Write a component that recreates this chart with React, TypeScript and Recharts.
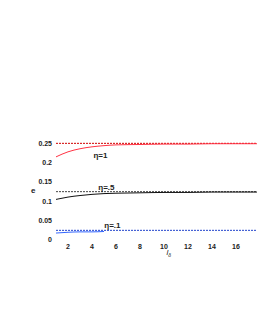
import {
  ComposedChart,
  Line,
  XAxis,
  YAxis,
  ReferenceLine,
  ReferenceDot,
  Label,
} from "recharts";

const xs = [1, 1.5, 2, 3, 4, 5, 6, 8, 10, 12, 14, 16, 17.75];
const eta1 = [0.215, 0.222, 0.228, 0.236, 0.241, 0.244, 0.246, 0.247, 0.248, 0.248, 0.249, 0.249, 0.249];
const eta05 = [0.105, 0.108, 0.111, 0.115, 0.118, 0.12, 0.121, 0.122, 0.123, 0.123, 0.124, 0.124, 0.124];
const eta01 = [0.018, 0.019, 0.02, 0.021, 0.021, 0.022, null, null, null, null, null, null, null];
const xTicks = [2, 4, 6, 8, 10, 12, 14, 16];
const yTicks = [0, 0.05, 0.1, 0.15, 0.2, 0.25];
const limits = [0.25, 0.125, 0.025];

const data = xs.map((x, i) => ({ x, a: eta1[i], b: eta05[i], c: eta01[i] }));

const font = "Arial, 'Liberation Sans', sans-serif";
const tickStyle = { fontSize: 7, fill: "#222", fontFamily: font, fontWeight: 700 };

function XLabel(props: any) {
  const vb = props.viewBox;
  const cx = vb.x + vb.width / 2 + 10;
  return (
    <text x={cx} y={vb.y + 15} fontSize={8} fontFamily={font} fontStyle="italic" fill="#222">
      l<tspan fontSize={5} dy={2}>δ</tspan>
    </text>
  );
}

export default function App() {
  return (
    <div style={{ position: "absolute", left: 0, top: 0, background: "#fff" }}>
      <ComposedChart
        width={257}
        height={332}
        data={data}
        margin={{ top: 124, right: 0, bottom: 72, left: 0 }}
      >
        <XAxis
          dataKey="x"
          type="number"
          domain={[1, 17.75]}
          ticks={xTicks}
          axisLine={false}
          tickLine={false}
          tickSize={2}
          tick={tickStyle}
          height={20}
        >
          <Label content={<XLabel />} />
        </XAxis>
        <YAxis
          type="number"
          domain={[0, 0.3]}
          ticks={yTicks}
          axisLine={false}
          tickLine={false}
          tickSize={2}
          tick={tickStyle}
          tickFormatter={(v: number) => (v === 0 ? "0" : String(v))}
          width={56}
        >
          <Label value="e" position="insideLeft" offset={31} dy={8} style={{ fontSize: 8, fill: "#222", fontFamily: font, fontWeight: 700 }} />
        </YAxis>
        <ReferenceLine y={limits[0]} stroke="#d00000" strokeDasharray="2 1" strokeWidth={1} />
        <ReferenceLine y={limits[1]} stroke="#444" strokeDasharray="2 1" strokeWidth={1} />
        <ReferenceLine y={limits[2]} stroke="#2244cc" strokeDasharray="2 1" strokeWidth={1} />
        <Line dataKey="a" type="monotone" stroke="#ff3344" strokeWidth={1} dot={false} isAnimationActive={false} />
        <Line dataKey="b" type="monotone" stroke="#111" strokeWidth={1} dot={false} isAnimationActive={false} />
        <Line dataKey="c" type="monotone" stroke="#3366ff" strokeWidth={1} dot={false} isAnimationActive={false} />
        <ReferenceDot x={4.7} y={0.219} r={0} fill="none" stroke="none">
          <Label value="η=1" position="center" style={{ fontSize: 8, fill: "#222", fontFamily: font, fontWeight: 700 }} />
        </ReferenceDot>
        <ReferenceDot x={5.2} y={0.137} r={0} fill="none" stroke="none">
          <Label value="η=.5" position="center" style={{ fontSize: 8, fill: "#222", fontFamily: font, fontWeight: 700 }} />
        </ReferenceDot>
        <ReferenceDot x={5.7} y={0.039} r={0} fill="none" stroke="none">
          <Label value="η=.1" position="center" style={{ fontSize: 8, fill: "#222", fontFamily: font, fontWeight: 700 }} />
        </ReferenceDot>
      </ComposedChart>
    </div>
  );
}
